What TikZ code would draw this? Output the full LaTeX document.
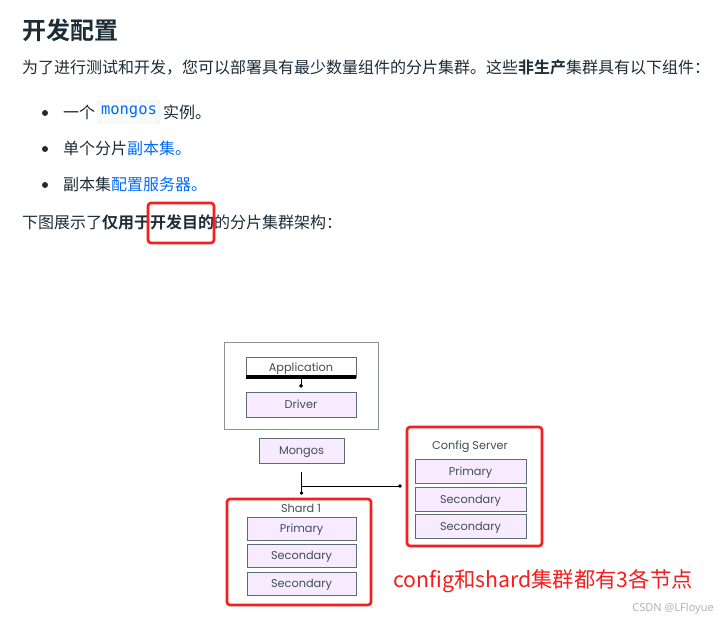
\documentclass[tikz,border=0pt]{standalone}
\usepackage{fontspec}
\setmainfont{Noto Sans CJK SC}[BoldFont={Noto Sans CJK SC Bold}]
\newfontfamily\diag{Poppins}
\newfontfamily\codefont{DejaVu Sans Mono}
\newfontfamily\wmfont{Noto Sans}
\usetikzlibrary{arrows.meta,calc}
\definecolor{txt}{HTML}{1C2D38}
\definecolor{link}{HTML}{016BF8}
\definecolor{boxfill}{HTML}{F9EBFF}
\definecolor{boxline}{HTML}{5C6C75}
\definecolor{diagtxt}{HTML}{3D4F58}
\definecolor{outline}{HTML}{8A949A}
\definecolor{hl}{HTML}{F41E1E}
\definecolor{codebg}{HTML}{F9FBFA}
\definecolor{codeline}{HTML}{D8DEDC}
\definecolor{wm}{HTML}{B4B4B4}
\begin{document}
\begin{tikzpicture}[x=1pt,y=-1pt,
  txtnode/.style={anchor=west,inner sep=0pt,text=txt,font=\fontsize{16}{18}\selectfont},
  member/.style={draw=boxline,fill=boxfill,inner sep=0pt,text=diagtxt,
    font=\diag\fontsize{11.3}{13}\selectfont,line width=0.8pt,text height=8pt,text depth=0pt},
  redbox/.style={draw=hl,line width=2.6pt,rounded corners=3pt,inner sep=0pt},
  dotline/.style={draw=black,line width=0.8pt,-{Circle[length=3.5pt]}},
  bulletdot/.style={circle,fill=txt,inner sep=0pt,minimum size=6pt},
  boxlabel/.style={inner sep=0pt,text=diagtxt,font=\diag\fontsize{11.3}{13}\selectfont,text height=8pt,text depth=0pt}
]
\useasboundingbox (0,0) rectangle (725,623);
\fill[white] (0,0) rectangle (725,623);

% ---- text part ----
\node[txtnode,font=\bfseries\fontsize{24}{28}\selectfont] (title) at (22,30) {开发配置};
\node[txtnode] (para) at (22,68) {为了进行测试和开发，您可以部署具有最少数量组件的分片集群。这些\textbf{非生产}集群具有以下组件：};

\node[bulletdot] (d1) at (45,113) {};
\node[bulletdot] (d2) at (45,149) {};
\node[bulletdot] (d3) at (45,185) {};

\node[txtnode] (b1a) at (63,112) {一个};
\node[draw=codeline,fill=codebg,rounded corners=3pt,inner sep=0pt,minimum width=62pt,minimum height=22pt,
  text=link,font=\codefont\fontsize{15.5}{18}\selectfont] (code) at (129,112) {\raisebox{-2pt}{mongos}};
\node[txtnode] (b1b) at (163,112) {实例。};
\node[txtnode] (b2) at (63,148) {单个分片\textcolor{link}{副本集。}};
\node[txtnode] (b3) at (63,184) {副本集\textcolor{link}{配置服务器。}};

\node[txtnode] (last) at (22,222) {下图展示了\textbf{仅用于开发目的}的分片集群架构：};
\node[redbox,minimum width=66pt,minimum height=40pt] (hlbox) at (181,223) {};

% ---- diagram ----
\node[draw=outline,line width=0.8pt,minimum width=154pt,minimum height=87pt,inner sep=0pt] (appouter) at (301,385.5) {};
\node[member,fill=white,minimum width=110pt,minimum height=20pt] (app) at (301,367) {Application};
\node[fill=black,inner sep=0pt,minimum width=110.8pt,minimum height=4pt] (appbar) at (301,377) {};
\node[member,minimum width=110pt,minimum height=25pt] (driver) at (301,404.5) {Driver};
\draw[dotline] (appbar.south) -- ($(driver.north)+(0,-4)$);

\node[member,minimum width=85pt,minimum height=25pt] (mongos) at (301.5,450.5) {Mongos};

% shard
\node[redbox,minimum width=144pt,minimum height=106pt] (shard) at (299,552) {};
\node[boxlabel] (shardlbl) at (301,508) {Shard 1};
\node[member,minimum width=109pt,minimum height=23pt] (sp) at (301.5,528.5) {Primary};
\node[member,minimum width=109pt,minimum height=23pt] (ss1) at (301.5,555.5) {Secondary};
\node[member,minimum width=109pt,minimum height=23pt] (ss2) at (301.5,583.5) {Secondary};

% config
\node[redbox,minimum width=135pt,minimum height=119pt] (config) at (474.5,486.5) {};
\node[boxlabel] (configlbl) at (470,445) {Config Server};
\node[member,minimum width=111pt,minimum height=24pt] (cp) at (470.5,471) {Primary};
\node[member,minimum width=111pt,minimum height=24pt] (cs1) at (470.5,499) {Secondary};
\node[member,minimum width=111pt,minimum height=24pt] (cs2) at (470.5,526) {Secondary};

% connectors
\coordinate (jn) at (301.5,486);
\draw[dotline] ($(mongos.south)+(0,9)$) -- ($(shard.north -| jn)+(0,-3)$);
\draw[dotline] (jn) -- ($(config.west |- jn)+(-4,0)$);

% annotation
\node[anchor=west,inner sep=0pt,text=hl,font=\fontsize{21.3}{24}\selectfont] (note) at (393,581) {config和shard集群都有3各节点};
\node[anchor=east,inner sep=0pt,text=wm,font=\wmfont\fontsize{11}{13}\selectfont] (wmark) at (714,609) {CSDN @LFloyue};
\end{tikzpicture}
\end{document}
